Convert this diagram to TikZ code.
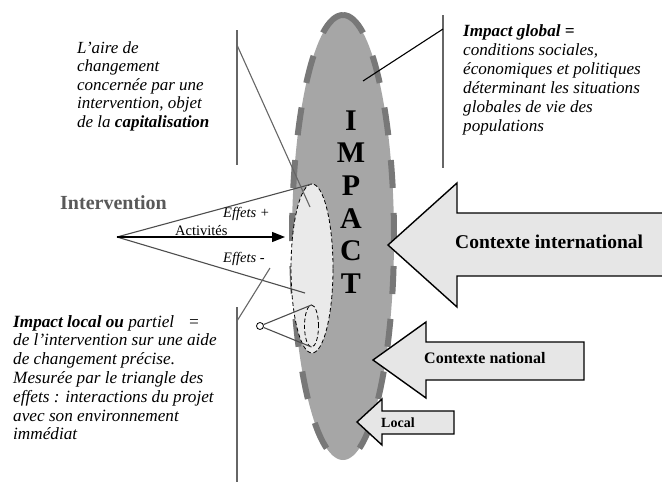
\documentclass[tikz,border=0pt]{standalone}
\usepackage{fontspec}
\setmainfont{Liberation Serif}
\usetikzlibrary{shapes.geometric,arrows.meta}
\definecolor{bigfill}{HTML}{A6A6A6}
\definecolor{dashgray}{HTML}{787878}
\definecolor{innerfill}{HTML}{EAEAEA}
\definecolor{arrowfill}{HTML}{E6E6E6}
\definecolor{leadgray}{HTML}{666666}
\definecolor{intergray}{HTML}{595959}
\definecolor{triggray}{HTML}{4D4D4D}
\begin{document}
\begin{tikzpicture}[x=1pt,y=1pt,
  leader/.style={draw=leadgray, line width=1.1pt},
  trig/.style={draw=triggray, line width=1.1pt},
  blockarrow/.style={draw=black, line width=1.4pt, fill=arrowfill, line join=miter},
  para/.style={anchor=north west, inner sep=0pt, align=left},
  lbl/.style={anchor=base west, inner sep=0pt},
  bigdash/.style={draw=dashgray, line width=6pt, dash pattern=on 28pt off 25pt},
  finedash/.style={draw=black, line width=0.8pt, dash pattern=on 4pt off 2.5pt}]
\useasboundingbox (0,0) rectangle (662,-485);
\clip (0,0) rectangle (662,-485);

% big IMPACT ellipse
\node[ellipse, minimum width=102pt, minimum height=445pt, inner sep=0pt, outer sep=0pt, fill=bigfill] (big) at (343,-237.5) {};
\draw[bigdash] (343,-15) arc[start angle=90, end angle=-90, x radius=51, y radius=222.5];
\draw[bigdash] (343,-15) arc[start angle=90, end angle=270, x radius=51, y radius=222.5];

% inner (area of change) ellipse and small ellipse
\node[ellipse, minimum width=42pt, minimum height=169pt, inner sep=0pt, outer sep=0pt, fill=innerfill, finedash] (inner) at (312,-268.5) {};
\node[ellipse, minimum width=14pt, minimum height=42pt, inner sep=0pt, outer sep=0pt, finedash] (small) at (311.5,-326) {};
\node[circle, draw=black, fill=white, line width=0.8pt, minimum size=7pt, inner sep=0pt] (dot) at (260,-326) {};
\draw[trig] (dot) -- (small.north);
\draw[trig] (dot) -- (small.south);

% intervention triangle
\coordinate (apex) at (117,-237);
\coordinate (effminus) at (305,-293);
\coordinate (actend) at (285,-237);
\draw[trig] (apex) -- (inner.north);
\draw[trig] (apex) -- (effminus);
\draw[black, line width=1.3pt, -{Triangle[length=13pt,width=10pt]}] (apex) -- (actend);

% leader lines
\coordinate (v1a) at (237,-30);
\coordinate (v1b) at (237,-165);
\coordinate (d1a) at (237,-45);
\coordinate (d1b) at (310,-207);
\coordinate (v2a) at (237,-307);
\coordinate (v2b) at (237,-482);
\coordinate (d2a) at (237,-321);
\coordinate (d2b) at (270,-268);
\coordinate (v3a) at (443,-15);
\coordinate (v3b) at (443,-168);
\coordinate (d3a) at (443,-29);
\coordinate (d3b) at (363,-81);
\draw[leader] (v1a) -- (v1b);
\draw[leader] (d1a) -- (d1b);
\draw[leader] (v2a) -- (v2b);
\draw[leader] (d2a) -- (d2b);
\draw[leader] (v3a) -- (v3b);
\draw[black, line width=1.1pt] (d3a) -- (d3b);

% block arrows
\draw[blockarrow] (670,-213) -- (457,-213) -- (457,-183) -- (388,-245) -- (457,-307) -- (457,-276) -- (670,-276) -- cycle;
\draw[blockarrow] (584,-342) -- (426,-342) -- (426,-322) -- (373,-360) -- (426,-398) -- (426,-380) -- (584,-380) -- cycle;
\draw[blockarrow] (454,-411) -- (382,-411) -- (382,-399) -- (357,-422) -- (382,-445) -- (382,-434) -- (454,-434) -- cycle;
\node[lbl, font=\bfseries\fontsize{19.5}{22}\selectfont] (ctxint) at (455,-248) {Contexte international};
\node[lbl, font=\bfseries\fontsize{16}{19}\selectfont] (ctxnat) at (424,-363) {Contexte national};
\node[lbl, font=\bfseries\fontsize{14}{17}\selectfont] (ctxloc) at (381,-427) {Local};

% IMPACT letters
\node[anchor=north, inner sep=0pt, align=center, font=\bfseries\fontsize{30}{32.6}\selectfont] (impact) at (351,-107.2) {\strut I\\M\\P\\A\\C\\T};

% intervention labels
\node[lbl, font=\bfseries\fontsize{20}{24}\selectfont, text=intergray] (interv) at (60,-209) {Intervention};
\node[lbl, font=\itshape\fontsize{14.5}{17}\selectfont] (effp) at (223,-217) {Effets +};
\node[lbl, font=\fontsize{14.5}{17}\selectfont] (act) at (175,-235) {Activités};
\node[lbl, font=\itshape\fontsize{14.5}{17}\selectfont] (effm) at (223,-262) {Effets -};

% paragraphs
\node[para, font=\itshape\fontsize{17}{18.5}\selectfont] (aire) at (77,-40.05)
  {\strut L’aire de\\changement\\concernée par une\\intervention, objet\\de la \textbf{capitalisation}};
\node[para, font=\itshape\fontsize{17.1}{19}\selectfont] (global) at (463,-22.7)
  {\strut\textbf{Impact global =}\\conditions sociales,\\économiques et politiques\\déterminant les situations\\globales de vie des\\populations};
\node[para, font=\itshape\fontsize{17.2}{18.8}\selectfont] (local) at (13,-313.8)
  {\strut\textbf{Impact local ou} partiel\hspace{14pt}=\\de l’intervention sur une aide\\de changement précise.\\Mesurée par le triangle des\\effets : interactions du projet\\avec son environnement\\immédiat};
\end{tikzpicture}
\end{document}
